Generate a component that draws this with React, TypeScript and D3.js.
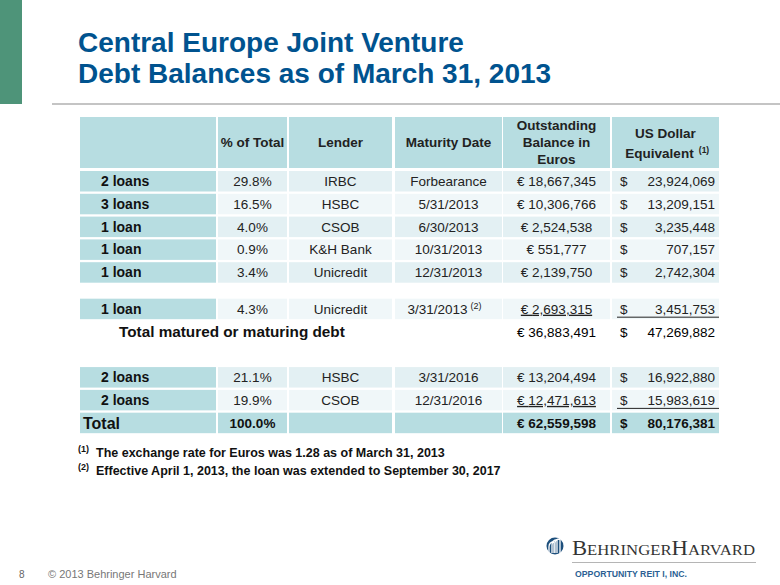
import React from "react";
import * as d3 from "d3";

const rowLabels = ["2 loans", "3 loans", "1 loan", "1 loan", "1 loan", "1 loan", "2 loans", "2 loans"];
const pctOfTotal = [29.8, 16.5, 4.0, 0.9, 3.4, 4.3, 21.1, 19.9];
const lenders = ["IRBC", "HSBC", "CSOB", "K&H Bank", "Unicredit", "Unicredit", "HSBC", "CSOB"];
const maturities = ["Forbearance", "5/31/2013", "6/30/2013", "10/31/2013", "12/31/2013", "3/31/2013", "3/31/2016", "12/31/2016"];
const maturityNotes = ["", "", "", "", "", "(2)", "", ""];
const eurosBalance = [18667345, 10306766, 2524538, 551777, 2139750, 2693315, 13204494, 12471613];
const usdEquivalent = [23924069, 13209151, 3235448, 707157, 2742304, 3451753, 16922880, 15983619];
const underlined = [false, false, false, false, false, true, false, true];
const rowSlots = [0, 1, 2, 3, 4, 5.6, 8.6, 9.6];
const maturedTotal = { label: "Total matured or maturing debt", euros: 36883491, usd: 47269882, slot: 6.6 };
const grandTotal = { label: "Total", pct: 100.0, euros: 62559598, usd: 80176381, slot: 10.6 };
const footnotes = [
  { mark: "(1)", text: "The exchange rate for Euros was 1.28 as of March 31, 2013" },
  { mark: "(2)", text: "Effective April 1, 2013, the loan was extended to September 30, 2017" },
];

const colEdges: [number, number][] = [
  [80, 216], [218, 287], [289, 392], [395, 502], [503, 610], [612, 719],
];

const FONT = "Arial, 'Liberation Sans', Helvetica, sans-serif";
const TEAL = "#B7DDE1";
const LIGHT_A = "#E3F0F3";
const LIGHT_B = "#F0F7F9";
const TXT = "#222";

export default function App() {
  const y = d3.scaleLinear().domain([0, 1]).range([171, 193.8]);
  const cellH = 20.5;
  const fmt = d3.format(",");
  const pctFmt = d3.format(".1f");
  const cx = (i: number) => (colEdges[i][0] + colEdges[i][1]) / 2;

  const dataRow = (i: number) => {
    const top = y(rowSlots[i]);
    const base = top + 15;
    const bg = i % 2 === 0 ? LIGHT_A : LIGHT_B;
    return (
      <g key={"r" + i}>
        {colEdges.map((c, j) => (
          <rect key={j} x={c[0]} y={top} width={c[1] - c[0]} height={cellH} fill={j === 0 ? TEAL : bg} />
        ))}
        <text x={101} y={base} fontWeight="bold" fontSize={14} fill="#111">{rowLabels[i]}</text>
        <text x={cx(1)} y={base} textAnchor="middle" fontSize={13.5} fill={TXT}>{pctFmt(pctOfTotal[i])}%</text>
        <text x={cx(2)} y={base} textAnchor="middle" fontSize={13.5} fill={TXT}>{lenders[i]}</text>
        <text x={maturityNotes[i] ? cx(3) - 4 : cx(3)} y={base} textAnchor="middle" fontSize={13.5} fill={TXT}>
          {maturities[i]}
          {maturityNotes[i] && <tspan dx={3} dy={-5} fontSize={9}>{maturityNotes[i]}</tspan>}
        </text>
        <text x={cx(4)} y={base} textAnchor="middle" fontSize={13.5} fill={TXT} textDecoration={underlined[i] ? "underline" : undefined}>€ {fmt(eurosBalance[i])}</text>
        <text x={620} y={base} fontSize={13.5} fill={TXT}>$</text>
        <text x={715} y={base} textAnchor="end" fontSize={13.5} fill={TXT}>{fmt(usdEquivalent[i])}</text>
        {underlined[i] && <line x1={617} x2={719} y1={top + cellH - 2} y2={top + cellH - 2} stroke="#222" strokeWidth={1} />}
      </g>
    );
  };

  const mTop = y(maturedTotal.slot);
  const tTop = y(grandTotal.slot);

  return (
    <svg width={780} height={585} style={{ position: "absolute", left: 0, top: 0 }} fontFamily={FONT}>
      <rect x={0} y={0} width={780} height={585} fill="#fff" />
      <rect x={0} y={0} width={22} height={104} fill="#4E9479" />
      <text x={78} y={52} fontSize={28} fontWeight="bold" fill="#00538F">Central Europe Joint Venture</text>
      <text x={78} y={83} fontSize={28} fontWeight="bold" fill="#00538F">Debt Balances as of March 31, 2013</text>
      <line x1={52} x2={780} y1={104} y2={104} stroke="#c4c4c4" strokeWidth={2} />

      {/* header */}
      {colEdges.map((c, j) => (
        <rect key={"h" + j} x={c[0]} y={117} width={c[1] - c[0]} height={51} fill={TEAL} />
      ))}
      <g fontWeight="bold" fontSize={13.5} fill={TXT} textAnchor="middle">
        <text x={cx(1)} y={147}>% of Total</text>
        <text x={cx(2)} y={147}>Lender</text>
        <text x={cx(3)} y={147}>Maturity Date</text>
        <text x={cx(4)} y={130}>Outstanding</text>
        <text x={cx(4)} y={147}>Balance in</text>
        <text x={cx(4)} y={164}>Euros</text>
        <text x={cx(5)} y={138}>US Dollar</text>
        <text x={cx(5) - 6} y={158}>Equivalent</text>
        <text x={704} y={153} fontSize={8.5}>(1)</text>
      </g>

      {rowLabels.map((_, i) => dataRow(i))}

      {/* matured total */}
      <g>
        <text x={119} y={mTop + 16} fontWeight="bold" fontSize={15.3} fill="#111">{maturedTotal.label}</text>
        <text x={cx(4)} y={mTop + 16} textAnchor="middle" fontSize={13.5} fill="#000">€ {fmt(maturedTotal.euros)}</text>
        <text x={620} y={mTop + 16} fontSize={13.5} fill="#000">$</text>
        <text x={715} y={mTop + 16} textAnchor="end" fontSize={13.5} fill="#000">{fmt(maturedTotal.usd)}</text>
      </g>

      {/* grand total */}
      <g>
        {colEdges.map((c, j) => (
          <rect key={"t" + j} x={c[0]} y={tTop} width={c[1] - c[0]} height={cellH} fill={TEAL} />
        ))}
        <text x={83} y={tTop + 16} fontWeight="bold" fontSize={16} fill="#111">{grandTotal.label}</text>
        <text x={cx(1)} y={tTop + 15} textAnchor="middle" fontWeight="bold" fontSize={13.5} fill="#111">{pctFmt(grandTotal.pct)}%</text>
        <text x={cx(4)} y={tTop + 15} textAnchor="middle" fontWeight="bold" fontSize={13.5} fill="#111">€ {fmt(grandTotal.euros)}</text>
        <text x={620} y={tTop + 15} fontWeight="bold" fontSize={13.5} fill="#111">$</text>
        <text x={715} y={tTop + 15} textAnchor="end" fontWeight="bold" fontSize={13.5} fill="#111">{fmt(grandTotal.usd)}</text>
      </g>

      {/* footnotes */}
      {footnotes.map((f, i) => (
        <g key={"f" + i}>
          <text x={78} y={452 + i * 18} fontWeight="bold" fontSize={9} fill="#111">{f.mark}</text>
          <text x={96} y={457 + i * 18} fontWeight="bold" fontSize={12.5} fill="#111">{f.text}</text>
        </g>
      ))}

      {/* footer */}
      <text x={19} y={578} fontSize={10} fill="#666">8</text>
      <text x={48} y={578} fontSize={11} fill="#777">© 2013 Behringer Harvard</text>

      {/* logo */}
      <g>
        <circle cx={555} cy={546} r={8.5} fill="#1D4F7C" />
        <path d="M549,553 L549,547 Q549,542 554,542 L554,553" fill="none" stroke="#fff" strokeWidth={1.3} />
        <path d="M552,553 L552,545 Q552,540 557,540 L557,553" fill="none" stroke="#fff" strokeWidth={1.3} />
        <path d="M555,553 L555,543 Q555,539 560,539 L560,553" fill="none" stroke="#fff" strokeWidth={1.3} />
        <text x={572} y={555} fontFamily="'Liberation Serif', 'DejaVu Serif', serif" fill="#333" textLength={183} lengthAdjust="spacingAndGlyphs">
          <tspan fontSize={21}>B</tspan><tspan fontSize={15.5}>EHRINGER</tspan><tspan fontSize={21}>H</tspan><tspan fontSize={15.5}>ARVARD</tspan>
        </text>
        <line x1={572} x2={756} y1={562.5} y2={562.5} stroke="#b5b5b5" strokeWidth={1} />
        <text x={575} y={577} fontSize={9.5} fontWeight="bold" fill="#2C5F93" textLength={112} lengthAdjust="spacingAndGlyphs">OPPORTUNITY REIT I, INC.</text>
      </g>
    </svg>
  );
}
